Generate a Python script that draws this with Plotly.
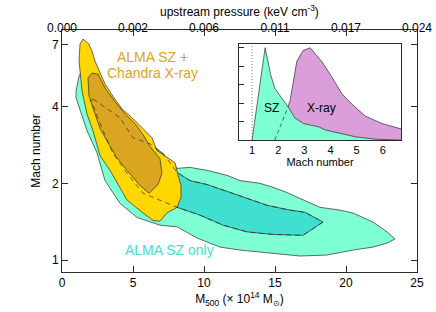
import plotly.graph_objects as go

# ---- main panel: posterior contours (M500 in 1e14 Msun, Mach number) ----
sz_outer_mass = [1.55, 1.83, 1.97, 3.38, 5.49, 7.25, 7.82, 8.10, 9.01, 10.21, 11.62, 12.54, 13.94, 14.86,
                 15.85, 16.97, 18.17, 19.58, 20.49, 21.90, 22.89, 23.45, 22.89, 21.90, 20.49, 18.66,
                 16.76, 14.65, 12.54, 11.13, 9.51, 8.10, 6.90, 5.28, 4.08, 3.03, 2.46, 1.76, 1.34,
                 0.99, 0.99, 1.20]
sz_outer_mach = [5.70, 5.83, 5.52, 3.85, 2.81, 2.46, 2.41, 2.29, 2.31, 2.25, 2.15, 2.05, 2.00, 1.93,
                 1.84, 1.72, 1.61, 1.57, 1.53, 1.41, 1.29, 1.21, 1.165, 1.124, 1.094, 1.046,
                 1.037, 1.065, 1.094, 1.124, 1.22, 1.35, 1.37, 1.47, 1.67, 2.05, 2.64, 3.22, 3.75,
                 4.33, 4.61, 5.27]

sz_inner_mass = [2.18, 2.68, 4.08, 5.00, 6.20, 7.11, 7.75, 8.10, 9.01, 10.21, 11.62, 13.24, 14.44,
                 16.06, 17.11, 18.38, 16.97, 14.86, 13.03, 11.34, 9.72, 8.10, 6.90, 5.70, 4.58,
                 3.59, 2.89, 2.32, 2.04]
sz_inner_mach = [4.29, 4.10, 3.62, 3.02, 2.86, 2.62, 2.35, 2.21, 2.05, 1.98, 1.86, 1.73, 1.64,
                 1.57, 1.54, 1.41, 1.25, 1.26, 1.29, 1.37, 1.50, 1.61, 1.72, 1.83, 2.19,
                 2.62, 3.22, 3.85, 4.22]

joint_outer_mass = [1.27, 1.48, 1.90, 2.11, 2.32, 2.61, 3.03, 3.66, 4.23, 4.93, 5.63, 6.34, 6.69,
                    7.39, 7.96, 8.17, 8.38, 8.38, 8.10, 7.39, 6.90, 6.41, 5.70, 4.58, 4.08, 3.38,
                    2.68, 2.18, 1.76, 1.41, 1.20]
joint_outer_mach = [7.04, 7.37, 7.04, 6.61, 6.04, 5.52, 4.91, 4.33, 3.92, 3.62, 3.31, 3.02, 2.69,
                    2.53, 2.41, 2.15, 1.96, 1.76, 1.61, 1.53, 1.42, 1.43, 1.53, 1.72, 1.93, 2.25,
                    2.57, 3.22, 3.75, 4.61, 6.04]

joint_inner_mass = [1.83, 2.11, 2.54, 3.03, 3.73, 4.44, 5.14, 5.70, 6.20, 6.90, 7.04, 6.76, 6.13,
                    5.49, 4.58, 3.80, 3.17, 2.68, 2.25, 1.90]
joint_inner_mach = [5.19, 5.42, 5.37, 4.74, 4.18, 3.75, 3.43, 3.11, 2.79, 2.50, 2.19, 1.98, 1.83,
                    1.96, 2.25, 2.55, 2.94, 3.28, 3.85, 4.41]

# ---- inset: marginal Mach-number posteriors ----
sz_pdf_mach = [1.0, 1.5, 1.71, 1.87, 2.38, 2.64, 2.96, 3.54, 3.8, 4.44, 4.95, 5.72, 6.3, 6.7]
sz_pdf = [0.0, 1.0, 0.71, 0.56, 0.36, 0.24, 0.18, 0.145, 0.11, 0.07, 0.036, 0.01, 0.0, 0.0]

xray_pdf_mach = [1.87, 2.38, 2.45, 2.71, 2.95, 3.22, 3.67, 4.06, 4.44, 4.82, 5.33, 5.97, 6.72]
xray_pdf = [0.0, 0.36, 0.42, 0.85, 0.97, 1.0, 0.85, 0.68, 0.50, 0.39, 0.26, 0.18, 0.12]
xray_hidden_mach = [1.87, 2.38]
xray_hidden_pdf = [0.0, 0.36]

# ---- tick labels ----
mass_ticks = [0, 5, 10, 15, 20, 25]
pressure_labels = ["0.000", "0.002", "0.006", "0.011", "0.017", "0.024"]
mach_ticks = [1, 2, 4, 7]
inset_mach_ticks = [1, 2, 3, 4, 5, 6]
inset_pdf_ticks = [0.2, 0.4, 0.6, 0.8, 1.0]

FONT = "Liberation Sans, Arial, Helvetica, sans-serif"
EDGE = "#2b2b2b"

fig = go.Figure()

def poly(x, y, fill, xa="x", ya="y"):
    fig.add_trace(go.Scatter(x=x + [x[0]], y=y + [y[0]], mode="lines", fill="toself",
                             fillcolor=fill, line=dict(color=EDGE, width=0.7),
                             xaxis=xa, yaxis=ya, hoverinfo="skip", showlegend=False))

poly(sz_outer_mass, sz_outer_mach, "#7FFFD4")
poly(sz_inner_mass, sz_inner_mach, "#40E0D0")
poly(joint_outer_mass, joint_outer_mach, "#FFD700")
poly(joint_inner_mass, joint_inner_mach, "#DAA520")
fig.add_trace(go.Scatter(x=sz_inner_mass + [sz_inner_mass[0]], y=sz_inner_mach + [sz_inner_mach[0]],
                         mode="lines", line=dict(color=EDGE, width=0.7, dash="5px,4px"),
                         hoverinfo="skip", showlegend=False))

# invisible trace for the top axis
fig.add_trace(go.Scatter(x=[0, 25], y=[1, 1], mode="markers", marker=dict(opacity=0),
                         xaxis="x2", yaxis="y", hoverinfo="skip", showlegend=False))

# inset
fig.add_trace(go.Scatter(x=xray_pdf_mach, y=xray_pdf, mode="lines", fill="tozeroy",
                         fillcolor="#DA9FDA", line=dict(color=EDGE, width=0.7),
                         xaxis="x3", yaxis="y3", hoverinfo="skip", showlegend=False))
fig.add_trace(go.Scatter(x=sz_pdf_mach, y=sz_pdf, mode="lines", fill="tozeroy",
                         fillcolor="#7FFFD4", line=dict(color=EDGE, width=0.7),
                         xaxis="x3", yaxis="y3", hoverinfo="skip", showlegend=False))
fig.add_trace(go.Scatter(x=xray_hidden_mach, y=xray_hidden_pdf, mode="lines",
                         line=dict(color=EDGE, width=0.7, dash="4px,3px"),
                         xaxis="x3", yaxis="y3", hoverinfo="skip", showlegend=False))
fig.add_trace(go.Scatter(x=[1, 1], y=[0, 1.04], mode="lines",
                         line=dict(color="#555", width=0.8, dash="1px,2px"),
                         xaxis="x3", yaxis="y3", hoverinfo="skip", showlegend=False))

axis_common = dict(showline=True, linecolor=EDGE, linewidth=1, ticks="inside", ticklen=6,
                   tickcolor=EDGE, showgrid=False, zeroline=False, automargin=False,
                   tickfont=dict(family=FONT, size=12, color="#000"))

fig.update_layout(
    width=436, height=312,
    margin=dict(l=62, r=19, t=30, b=40),
    plot_bgcolor="white", paper_bgcolor="white",
    font=dict(family=FONT, size=12, color="#000"),
    xaxis=dict(axis_common, range=[0, 25], tickvals=mass_ticks, mirror=True,
               title=dict(text="M<sub>500</sub> (× 10<sup>14</sup> M<sub>⊙</sub>)",
                          font=dict(family=FONT, size=12), standoff=0)),
    xaxis2=dict(axis_common, range=[0, 25], overlaying="x", side="top",
                tickvals=mass_ticks, ticktext=pressure_labels, showline=False,
                ticklabelstandoff=-5),
    yaxis=dict(axis_common, type="log", range=[-0.047, 0.903], tickvals=mach_ticks,
               mirror="ticks",
               title=dict(text="Mach number", font=dict(family=FONT, size=12), standoff=8)),
    xaxis3=dict(showline=True, linecolor=EDGE, linewidth=1, mirror=True, ticks="",
                domain=[0.4986, 0.955], anchor="y3", range=[0.5, 6.7], tickvals=inset_mach_ticks,
                showgrid=False, zeroline=False, automargin=False, tickfont=dict(family=FONT, size=11),
                title=dict(text="Mach number", font=dict(family=FONT, size=11), standoff=0)),
    yaxis3=dict(showline=True, linecolor=EDGE, linewidth=1, mirror=True, ticks="inside",
                ticklen=5, tickcolor=EDGE, domain=[0.545, 0.942], anchor="x3", range=[0, 1.04],
                tickvals=inset_pdf_ticks, showticklabels=False, showgrid=False, zeroline=False,
                automargin=False),
    annotations=[
        dict(text="upstream pressure (keV cm<sup>-3</sup>)", xref="paper", yref="paper",
             x=0.5, y=1.078, showarrow=False, xanchor="center", yanchor="middle",
             font=dict(family=FONT, size=12, color="#000")),
        dict(text="ALMA SZ +", xref="paper", yref="paper", x=0.256, y=0.890, showarrow=False,
             font=dict(family=FONT, size=14, color="#DAA520"), xanchor="center", yanchor="middle"),
        dict(text="Chandra X-ray", xref="paper", yref="paper", x=0.256, y=0.822, showarrow=False,
             font=dict(family=FONT, size=14, color="#DAA520"), xanchor="center", yanchor="middle"),
        dict(text="ALMA SZ only", xref="paper", yref="paper", x=0.303, y=0.091, showarrow=False,
             font=dict(family=FONT, size=14, color="#40E0D0"), xanchor="center", yanchor="middle"),
        dict(text="SZ", xref="x3", yref="y3", x=1.75, y=0.35, showarrow=False,
             font=dict(family=FONT, size=12, color="#000")),
        dict(text="X-ray", xref="x3", yref="y3", x=3.67, y=0.35, showarrow=False,
             font=dict(family=FONT, size=12, color="#000")),
    ],
)

# remove the page's default 8px body margin so the figure fills the window exactly
fig.write_html("out.html", config={"displayModeBar": False},
               post_script="document.body.style.margin='0';")
